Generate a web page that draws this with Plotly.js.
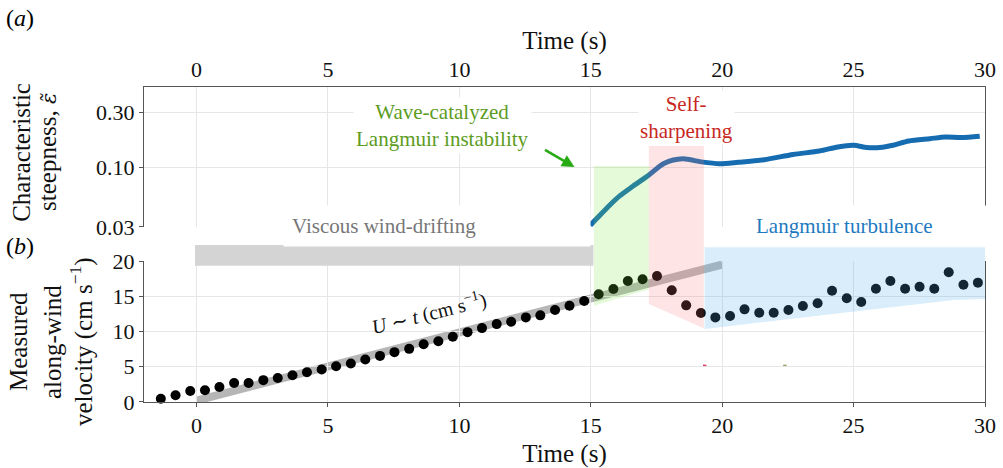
<!DOCTYPE html>
<html><head><meta charset="utf-8">
<script src="https://cdn.plot.ly/plotly-3.0.1.min.js"></script>
<style>html,body{margin:0;padding:0;background:#fff}</style>
</head><body>
<div id="chart" style="width:1003px;height:468px"></div>
<script>
// Panel (a): characteristic steepness vs time
const steepTime = [14.98, 15.3, 15.7, 16.1, 16.6, 17.2, 17.8, 18.5, 19.2, 19.9, 20.6, 21.6, 22.7, 23.7, 24.4, 25.0, 25.5, 26.0, 26.5, 27.1, 27.9, 28.5, 29.1, 29.8];
const steepValue = [0.031, 0.037, 0.046, 0.056, 0.068, 0.085, 0.108, 0.118, 0.111, 0.107, 0.110, 0.116, 0.129, 0.138, 0.150, 0.155, 0.148, 0.148, 0.155, 0.169, 0.177, 0.183, 0.181, 0.186];

// Panel (b): measured along-wind velocity
const velTime = [-1.36, -0.80, -0.24, 0.32, 0.87, 1.43, 1.98, 2.54, 3.09, 3.65, 4.20, 4.76, 5.31, 5.87, 6.42, 6.98, 7.53, 8.09, 8.64, 9.20, 9.75, 10.31, 10.86, 11.42, 11.97, 12.53, 13.08, 13.64, 14.19, 14.75, 15.30, 15.86, 16.41, 16.97, 17.52, 18.08, 18.63, 19.19, 19.74, 20.30, 20.85, 21.41, 21.96, 22.52, 23.07, 23.63, 24.18, 24.74, 25.29, 25.85, 26.40, 26.96, 27.51, 28.07, 28.62, 29.18, 29.73];
const velValue = [0.45, 0.95, 1.56, 1.66, 2.13, 2.70, 2.70, 3.10, 3.41, 3.80, 4.22, 4.60, 5.08, 5.46, 6.03, 6.54, 7.07, 7.54, 8.20, 8.63, 9.25, 9.91, 10.48, 11.05, 11.38, 12.00, 12.29, 13.04, 13.66, 14.32, 15.28, 16.03, 17.17, 17.41, 17.88, 15.85, 13.71, 12.62, 12.00, 12.19, 13.14, 12.66, 12.66, 13.04, 13.61, 14.00, 15.79, 14.71, 14.18, 16.07, 17.17, 16.07, 16.36, 16.07, 18.41, 16.64, 16.93];

// Linear-growth guide U ~ t
const guideTime = [0, 20];
const guideValue = [0.2, 19.5];

// Regime boundaries (s)
const viscousStart = 0, viscousEnd = 15.1;
const greenStart = 15.12, greenEnd = 17.21;
const pinkStart = 17.21, pinkEnd = 19.3;
const blueStart = 19.33, blueEnd = 30;

const xTicks = [0, 5, 10, 15, 20, 25, 30];
const topYTicks = [0.03, 0.1, 0.3];
const topYTickText = ['0.03', '0.10', '0.30'];
const botYTicks = [0, 5, 10, 15, 20];

const FONT = 'Liberation Serif, Times New Roman, serif';
const gridC = '#e6e6e6', axC = '#555';

const traces = [
  {x: steepTime, y: steepValue, xaxis: 'x', yaxis: 'y', mode: 'lines',
   line: {color: 'rgb(22,108,176)', width: 5, shape: 'spline', smoothing: 0.8},
   hoverinfo: 'skip', showlegend: false},
  {x: velTime, y: velValue, xaxis: 'x2', yaxis: 'y2', mode: 'markers',
   marker: {color: '#000', size: 10}, cliponaxis: false, hoverinfo: 'skip', showlegend: false}
];

const shapes = [
  {type: 'line', xref: 'x2', yref: 'y2', x0: guideTime[0], y0: guideValue[0], x1: guideTime[1], y1: guideValue[1],
   line: {color: 'rgba(110,110,110,0.5)', width: 8}, layer: 'below'},
  {type: 'rect', xref: 'x', yref: 'paper', x0: viscousStart - 0.06, x1: viscousEnd, y0: 0.4327, y1: 0.4984,
   fillcolor: '#d4d4d4', line: {width: 0}, layer: 'above'},
  {type: 'path', xref: 'x', yref: 'paper',
   path: `M ${greenStart},0.749 L ${greenEnd},0.749 L ${greenEnd},0.3578 L ${greenStart},0.3057 Z`,
   fillcolor: 'rgb(120,230,65)', opacity: 0.2, line: {width: 0}, layer: 'above'},
  {type: 'path', xref: 'x', yref: 'paper',
   path: `M ${pinkStart},0.8127 L ${pinkEnd},0.8127 L ${pinkEnd},0.234 L ${pinkStart},0.311 Z`,
   fillcolor: 'rgb(250,120,120)', opacity: 0.2, line: {width: 0}, layer: 'above'},
  {type: 'path', xref: 'x', yref: 'paper',
   path: `M ${blueStart},0.491 L ${blueEnd},0.491 L ${blueEnd},0.327 L 28.8,0.3238 L ${blueStart},0.2317 Z`,
   fillcolor: 'rgb(80,175,235)', opacity: 0.22, line: {width: 0}, layer: 'above'},
  {type: 'line', xref: 'x2', yref: 'y2', x0: 19.27, x1: 19.4, y0: 5.2, y1: 5.2, line: {color: '#e04060', width: 1.5}},
  {type: 'line', xref: 'x2', yref: 'y2', x0: 22.32, x1: 22.45, y0: 5.2, y1: 5.2, line: {color: '#a0a070', width: 1.5}}
];

const annFont = (c, s) => ({family: FONT, size: s, color: c});
const ytitle = (x, y, text) => ({xref: 'paper', yref: 'paper', x: x, y: y, xanchor: 'center', yanchor: 'middle',
  textangle: -90, text: text, showarrow: false, font: annFont('#111', 25)});
const annotations = [
  {xref: 'paper', yref: 'paper', x: -0.1474, y: 1.219, xanchor: 'center', yanchor: 'middle', text: '(<i>a</i>)', showarrow: false, font: annFont('#000', 24)},
  {xref: 'paper', yref: 'paper', x: -0.1474, y: 0.495, xanchor: 'center', yanchor: 'middle', text: '(<i>b</i>)', showarrow: false, font: annFont('#000', 24)},
  // y-axis titles (tight line spacing as in the reference)
  ytitle(-0.1451, 0.794, 'Characteristic'),
  ytitle(-0.1141, 0.794, 'steepness, <span style="font-family:DejaVu Serif;font-style:italic;font-size:21px">ε̃</span>'),
  ytitle(-0.1486, 0.1905, 'Measured'),
  ytitle(-0.1082, 0.1905, 'along-wind'),
  ytitle(-0.0737, 0.1905, 'velocity (cm s<sup>−1</sup>)'),
  {xref: 'x', yref: 'paper', x: 9.37, y: 0.879, xanchor: 'center', yanchor: 'middle', text: 'Wave-catalyzed<br>Langmuir instability', showarrow: false,
   font: annFont('rgb(92,156,30)', 21), bgcolor: '#fff', borderpad: 2},
  {xref: 'x', yref: 'paper', x: 18.64, y: 0.903, xanchor: 'center', yanchor: 'middle', text: 'Self-<br>sharpening', showarrow: false,
   font: annFont('rgb(200,40,30)', 21), bgcolor: '#fff', borderpad: 1},
  {xref: 'x', yref: 'paper', x: 3.28, y: 0.5587, xanchor: 'left', yanchor: 'middle', text: 'Viscous wind-drifting', showarrow: false,
   width: 290, align: 'left', font: annFont('#777', 21), bgcolor: '#fff', borderpad: 8},
  {xref: 'x', yref: 'paper', x: 20.96, y: 0.5587, xanchor: 'left', yanchor: 'middle', text: 'Langmuir turbulence', showarrow: false,
   width: 230, align: 'left', font: annFont('rgb(30,122,192)', 21), bgcolor: '#fff', borderpad: 8},
  {xref: 'x', yref: 'paper', x: 8.83, y: 0.285, xanchor: 'center', yanchor: 'middle', text: '<i>U</i> ∼ <i>t</i> (cm s<sup>−1</sup>)', showarrow: false,
   textangle: -14, font: annFont('#111', 20)},
  {xref: 'x', yref: 'paper', x: 14.38, y: 0.746, text: '', showarrow: true, ax: -31, ay: -18,
   arrowcolor: 'rgb(40,170,20)', arrowwidth: 2.5, arrowhead: 2, arrowsize: 1}
];

const layout = {
  width: 1003, height: 468,
  margin: {l: 144, r: 18, t: 87, b: 66},
  paper_bgcolor: '#fff', plot_bgcolor: '#fff',
  font: {family: FONT, size: 22, color: '#111'},
  showlegend: false,
  xaxis: {domain: [0, 1], anchor: 'y', side: 'top', range: [-2, 30], tickvals: xTicks,
    showgrid: true, gridcolor: gridC, showline: true, linecolor: axC, linewidth: 1, ticks: '',
    zeroline: false, title: {text: 'Time (s)', font: {size: 25}, standoff: 0}, tickfont: {size: 22}},
  yaxis: {domain: [0.5556, 1], anchor: 'x', type: 'log', range: [Math.log10(0.03), Math.log10(0.5)],
    tickvals: topYTicks, ticktext: topYTickText, showgrid: true, gridcolor: gridC, showline: true,
    mirror: true, linecolor: axC, ticks: 'outside', ticklen: 4, tickcolor: axC, zeroline: false,
    tickfont: {size: 22}},
  xaxis2: {domain: [0, 1], anchor: 'y2', range: [-2, 30], tickvals: xTicks, showgrid: true, gridcolor: gridC,
    showline: true, linecolor: axC, ticks: 'outside', ticklen: 4, tickcolor: axC, zeroline: false,
    title: {text: 'Time (s)', font: {size: 25}, standoff: 10}, tickfont: {size: 22}},
  yaxis2: {domain: [0, 0.4476], anchor: 'x2', range: [0, 20], tickvals: botYTicks, showgrid: true, gridcolor: gridC,
    showline: true, mirror: true, linecolor: axC, ticks: 'outside', ticklen: 4, tickcolor: axC, zeroline: false,
    tickfont: {size: 22}},
  shapes: shapes,
  annotations: annotations
};

Plotly.newPlot('chart', traces, layout, {staticPlot: true, displayModeBar: false});
</script>
</body></html>
